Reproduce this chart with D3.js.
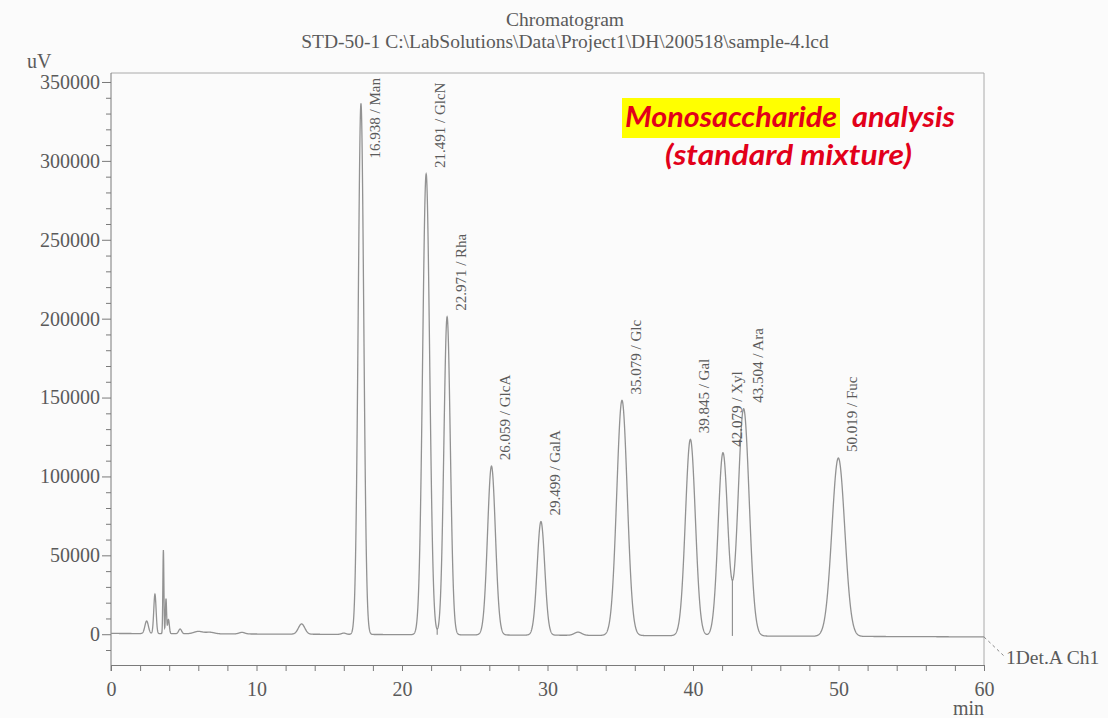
<!DOCTYPE html>
<html><head><meta charset="utf-8">
<script src="https://cdn.jsdelivr.net/npm/d3@7"></script>
<style>body{margin:0;background:#fbfbfb;} svg{display:block}</style>
</head><body>
<svg id="c" width="1108" height="718"></svg>
<script>
// ---- data ----
const peakNames = ["Man","GlcN","Rha","GlcA","GalA","Glc","Gal","Xyl","Ara","Fuc"];
const peakRT = ["16.938","21.491","22.971","26.059","29.499","35.079","39.845","42.079","43.504","50.019"];
const peakApexTimes = [17.18,21.66,23.10,26.15,29.55,35.12,39.82,42.06,43.48,49.99];
const peakHeights = [336500,292000,201500,107000,72000,149000,124500,116000,144000,113000];
const peakSigmas = [0.19,0.24,0.22,0.27,0.26,0.36,0.34,0.33,0.38,0.44];
const minorTimes = [2.45,3.02,3.60,3.78,3.95,4.75,6.0,6.8,9.0,13.1,16.0,32.1];
const minorHeights = [8000,25000,53000,22000,9000,3000,1500,1000,1000,6500,800,2000];
const minorSigmas = [0.12,0.08,0.035,0.04,0.06,0.1,0.3,0.3,0.2,0.22,0.15,0.25];
const driftTimes = [0,60];
const driftValues = [500,-1700];
const dropPairs = [["GlcN","Rha"],["Xyl","Ara"]];
const xTicks = [0,10,20,30,40,50,60];
const yTicks = [0,50000,100000,150000,200000,250000,300000,350000];
const titleLines = ["Chromatogram","STD-50-1 C:\\LabSolutions\\Data\\Project1\\DH\\200518\\sample-4.lcd"];

(function(){
const svg = d3.select("#c");
const W=1108,H=718;
const mL=111,mR=984,mT=73,mB=665;
const x = d3.scaleLinear().domain([0,60]).range([mL,mR]);
const y = d3.scaleLinear().domain([-19500,355700]).range([mB,mT]);
const serif = "'Liberation Serif','DejaVu Serif',serif";
const textCol = "#5a5a5a", axisCol="#7a7a7a";

svg.append("rect").attr("width",W).attr("height",H).attr("fill","#fbfbfb");

const drift = d3.scaleLinear().domain(driftTimes).range(driftValues);
const peaks = peakNames.map((n,i)=>({t:peakApexTimes[i],h:peakHeights[i],s:peakSigmas[i]}))
  .concat(minorTimes.map((t,i)=>({t,h:minorHeights[i],s:minorSigmas[i]})));
function signal(t){
  let v = drift(t);
  for(const p of peaks){ const z=(t-p.t)/p.s; if(Math.abs(z)<8) v += p.h*Math.exp(-0.5*z*z); }
  return v;
}
const samples = d3.range(0,60.0001,0.01).map(t=>[t,signal(t)]);

// frame
svg.append("line").attr("x1",mL).attr("x2",mR).attr("y1",mT).attr("y2",mT).attr("stroke","#aaa").attr("stroke-width",1);
svg.append("line").attr("x1",mR).attr("x2",mR).attr("y1",mT).attr("y2",mB).attr("stroke","#aaa").attr("stroke-width",1);

// y axis
const yMinor = d3.range(-10000,355000,10000).filter(v=>v%50000!==0);
const gyMinor = svg.append("g").attr("transform",`translate(${mL},0)`)
  .call(d3.axisLeft(y).tickValues(yMinor).tickSize(5).tickFormat(""));
gyMinor.select(".domain").remove();
const gy = svg.append("g").attr("transform",`translate(${mL},0)`)
  .call(d3.axisLeft(y).tickValues(yTicks).tickSize(9).tickSizeOuter(0).tickPadding(2).tickFormat(d3.format("d")));
// x axis
const xMinor = d3.range(2,60,2).filter(v=>v%10!==0);
const gxMinor = svg.append("g").attr("transform",`translate(0,${mB})`)
  .call(d3.axisBottom(x).tickValues(xMinor).tickSize(6).tickFormat(""));
gxMinor.select(".domain").remove();
const gx = svg.append("g").attr("transform",`translate(0,${mB})`)
  .call(d3.axisBottom(x).tickValues(xTicks).tickSize(6).tickSizeOuter(0).tickPadding(11).tickFormat(d3.format("d")));
svg.selectAll(".domain, .tick line").attr("stroke",axisCol).attr("stroke-width",1);
svg.selectAll(".tick text").attr("font-family",serif).attr("font-size",20).attr("fill",textCol);
gy.select(".domain").attr("d",`M0,${mT}V${mB+6}`);

// trace
svg.append("path").datum(samples)
  .attr("d",d3.line().x(d=>x(d[0])).y(d=>y(d[1])))
  .attr("fill","none").attr("stroke","#929292").attr("stroke-width",1.3);

// drop lines at valleys
dropPairs.forEach(([a,b])=>{
  const ta=peakApexTimes[peakNames.indexOf(a)], tb=peakApexTimes[peakNames.indexOf(b)];
  const seg = samples.filter(d=>d[0]>ta&&d[0]<tb);
  const v = d3.least(seg,d=>d[1]);
  svg.append("line").attr("x1",x(v[0])).attr("x2",x(v[0]))
    .attr("y1",y(drift(v[0]))).attr("y2",y(v[1]))
    .attr("stroke","#929292").attr("stroke-width",1.2);
});

// peak labels
peakNames.forEach((n,i)=>{
  const px = x(peakApexTimes[i])+14;
  const apexY = y(signal(peakApexTimes[i]));
  const t = svg.append("text").text(`${peakRT[i]} / ${n}`)
    .attr("font-family",serif).attr("font-size",15).attr("fill",textCol)
    .attr("dominant-baseline","central");
  const len = t.node().getComputedTextLength();
  const sy = Math.max(apexY-6, mT+5+len);
  t.attr("transform",`translate(${px},${sy}) rotate(-90)`);
});

// titles
svg.append("text").text(titleLines[0]).attr("x",565).attr("y",26).attr("text-anchor","middle")
  .attr("font-family",serif).attr("font-size",19.5).attr("fill",textCol);
svg.append("text").text(titleLines[1]).attr("x",565).attr("y",48).attr("text-anchor","middle")
  .attr("font-family",serif).attr("font-size",19.5).attr("fill",textCol);
svg.append("text").text("uV").attr("x",27).attr("y",68)
  .attr("font-family",serif).attr("font-size",20).attr("fill",textCol);
svg.append("text").text("min").attr("x",953).attr("y",715)
  .attr("font-family",serif).attr("font-size",20).attr("fill",textCol);

// channel label
const endV = samples[samples.length-1];
svg.append("line").attr("x1",x(endV[0])).attr("y1",y(endV[1])).attr("x2",1004).attr("y2",656)
  .attr("stroke","#888").attr("stroke-dasharray","3,3").attr("stroke-width",1);
svg.append("text").text("1Det.A Ch1").attr("x",1006).attr("y",664)
  .attr("font-family",serif).attr("font-size",19.5).attr("fill",textCol);

// annotation
const sans = "Lato,'Open Sans','Liberation Sans',sans-serif";
svg.append("rect").attr("x",622).attr("y",98).attr("width",218).attr("height",40).attr("fill","#ffff00");
const red = "#e2001a";
[["Monosaccharide",625,127,212],["analysis",852,127,103],["(standard mixture)",665,165,247]].forEach(([s,tx,ty,tl])=>{
  svg.append("text").text(s).attr("x",tx).attr("y",ty)
    .attr("font-family",sans).attr("font-size",28).attr("font-weight","bold").attr("font-style","italic")
    .attr("fill",red).attr("textLength",tl).attr("lengthAdjust","spacingAndGlyphs");
});
})();
</script>
</body></html>
